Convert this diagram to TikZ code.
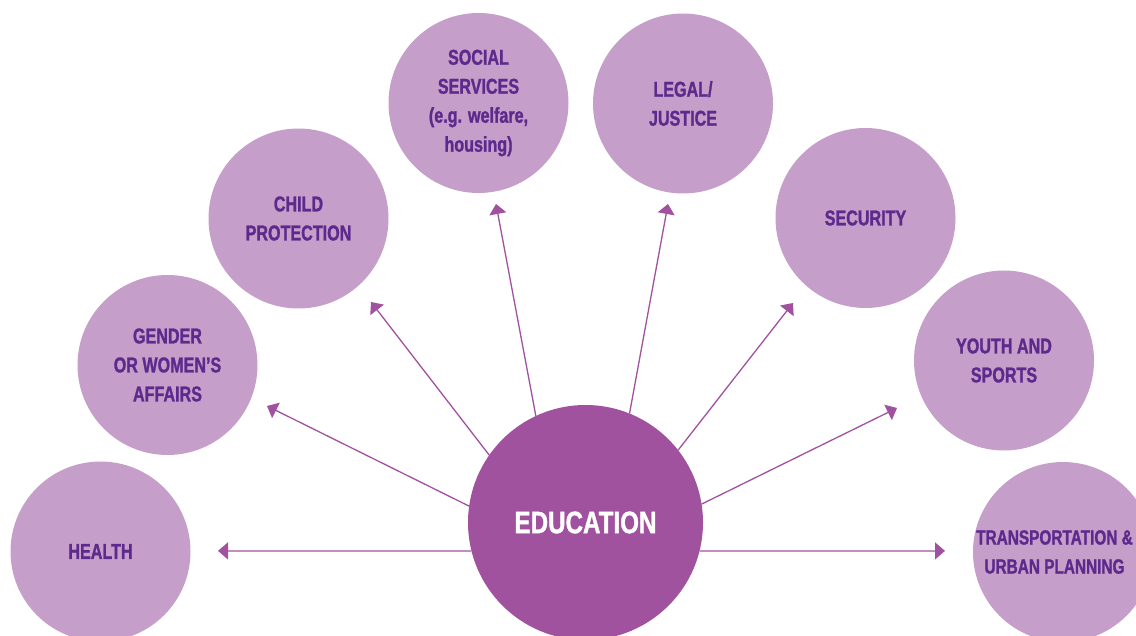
\documentclass[tikz,border=0pt]{standalone}
\usepackage{fontspec}
\newfontfamily\lblfont[FakeStretch=0.75, BoldFeatures={FakeBold=1.2}]{Liberation Sans}
\newfontfamily\edufont[FakeStretch=0.78, BoldFeatures={FakeBold=1.2}]{Liberation Sans}
\usetikzlibrary{arrows.meta}
\definecolor{lightpurple}{HTML}{C59FC9}
\definecolor{edupurple}{HTML}{A0529F}
\definecolor{textpurple}{HTML}{5C2A8D}
\definecolor{arrowpurple}{HTML}{A0529F}
\tikzset{
  topic/.style={circle, fill=lightpurple, minimum size=180pt, inner sep=0pt, outer sep=0pt,
    text=textpurple, align=center, font=\lblfont\bfseries\fontsize{21.5}{29}\selectfont},
  hub/.style={circle, fill=edupurple, minimum size=235pt, inner sep=0pt, outer sep=0pt,
    text=white, font=\edufont\bfseries\fontsize{31}{36}\selectfont},
  link/.style={draw=arrowpurple, line width=1.3pt, -{Triangle[length=10pt,width=17pt]}}
}
\begin{document}
\begin{tikzpicture}[x=1pt,y=-1pt]
\useasboundingbox (0,0) rectangle (1136,636);
\node[topic] (health) at (100.5,551.5) {HEALTH};
\node[topic] (gender) at (167.5,365) {GENDER\\OR WOMEN’S\\AFFAIRS};
\node[topic] (child) at (298.5,218.5) {CHILD\\PROTECTION};
\node[topic] (social) at (478.5,103) {SOCIAL\\SERVICES\\(e.g. welfare,\\housing)};
\node[topic] (legal) at (683,103.5) {LEGAL/\\JUSTICE};
\node[topic] (security) at (865.5,218) {SECURITY};
\node[topic] (youth) at (1004,360.5) {YOUTH AND\\SPORTS};
\node[topic, label={[text=textpurple, align=center, font=\lblfont\bfseries\fontsize{20.5}{29}\selectfont, xshift=-8.5pt]center:TRANSPORTATION \&\\URBAN PLANNING}] (transport) at (1063,552) {};
\node[hub] (edu) at (585.5,522.5) {EDUCATION};
\coordinate (thealth) at (218,550.9);
\coordinate (tgender) at (267,406);
\coordinate (tchild) at (371,302);
\coordinate (tsocial) at (496,204);
\coordinate (tlegal) at (668,204);
\coordinate (tsecurity) at (793,303);
\coordinate (tyouth) at (897,408);
\coordinate (ttransport) at (945,550.9);
\draw[link] (edu.194) -- (thealth);
\draw[link] (edu.172) -- (tgender);
\draw[link] (edu.145) -- (tchild);
\draw[link] (edu.115.6) -- (tsocial);
\draw[link] (edu.68.8) -- (tlegal);
\draw[link] (edu.38.3) -- (tsecurity);
\draw[link] (edu.9.5) -- (tyouth);
\draw[link] (edu.-14) -- (ttransport);
\end{tikzpicture}
\end{document}
